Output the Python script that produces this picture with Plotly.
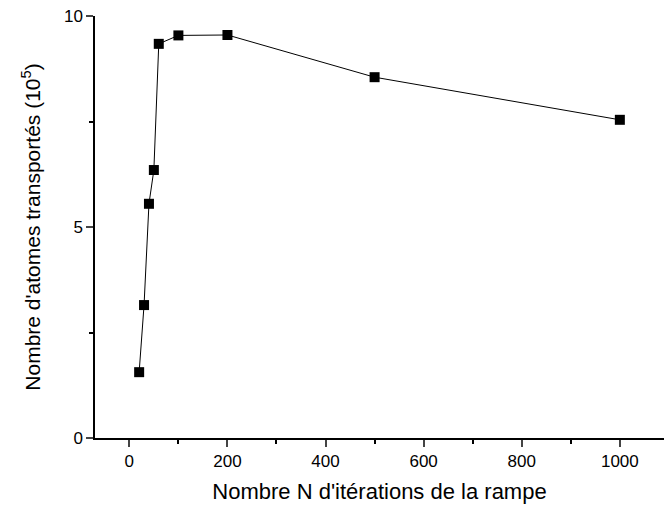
import plotly.graph_objects as go

iterations = [20, 30, 40, 50, 60, 100, 200, 500, 1000]
atoms = [1.56, 3.15, 5.55, 6.35, 9.34, 9.54, 9.55, 8.55, 7.54]
x_ticks = [0, 200, 400, 600, 800, 1000]
y_ticks = [0, 5, 10]

fig = go.Figure()
fig.add_trace(go.Scatter(
    x=iterations, y=atoms, mode="lines+markers",
    line=dict(color="black", width=1),
    marker=dict(symbol="square", size=10, color="black"),
    showlegend=False,
))

font = "Liberation Sans, Arial, sans-serif"
fig.update_layout(
    width=665, height=516,
    margin=dict(l=95, r=1, t=16, b=78),
    paper_bgcolor="white", plot_bgcolor="white",
    font=dict(family=font, color="black", size=17),
)
fig.update_xaxes(
    range=[-70, 1090], tickvals=x_ticks, ticks="outside", ticklen=7, tickwidth=1.5,
    showline=True, linecolor="black", linewidth=1.5, showgrid=False, zeroline=False,
    automargin=False,
    minor=dict(tickvals=[100, 300, 500, 700, 900], ticks="outside", ticklen=4, tickwidth=1.5, tickcolor="black"),
    tickfont=dict(size=17),
    title=dict(text="Nombre N d'itérations de la rampe", font=dict(size=22), standoff=13),
)
fig.update_yaxes(
    range=[0, 10], tickvals=y_ticks, ticks="outside", ticklen=7, tickwidth=1.5,
    showline=True, linecolor="black", linewidth=1.5, showgrid=False, zeroline=False,
    automargin=False,
    minor=dict(tickvals=[2.5, 7.5], ticks="outside", ticklen=4, tickwidth=1.5, tickcolor="black"),
    tickfont=dict(size=17),
    title=dict(text="Nombre d'atomes transportés (10<sup>5</sup>)", font=dict(size=21), standoff=18),
)
fig.write_html(
    "out.html",
    config={"displayModeBar": False},
    post_script="document.body.style.margin='0';document.body.style.overflow='hidden';",
)
